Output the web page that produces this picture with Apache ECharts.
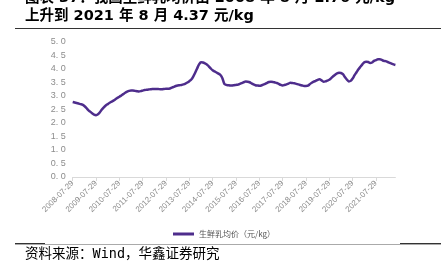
<!DOCTYPE html>
<html><head><meta charset="utf-8">
<script src="https://cdn.jsdelivr.net/npm/echarts@6/dist/echarts.min.js"></script>
<style>html,body{margin:0;padding:0;background:#fff}#c{width:441px;height:272px}</style>
</head><body><div id="c"></div>
<script>
// monthly series from 2008-07 to 2022-05
const startYear = 2008, startMonth = 7, nMonths = 167;
const seriesName = '生鲜乳均价（元/kg）';
const milkPrice = [
2.78,2.76,2.74,2.72,2.70,2.68,2.63,2.56,2.48,2.42,2.36,2.31,
2.29,2.32,2.40,2.50,2.58,2.65,2.70,2.75,2.79,2.83,2.88,2.93,
2.97,3.02,3.07,3.12,3.16,3.19,3.20,3.20,3.19,3.18,3.17,3.18,
3.20,3.22,3.23,3.24,3.25,3.26,3.26,3.26,3.26,3.25,3.25,3.26,
3.27,3.27,3.28,3.31,3.34,3.37,3.39,3.40,3.41,3.43,3.46,3.50,
3.55,3.61,3.72,3.86,4.02,4.17,4.25,4.24,4.21,4.17,4.10,4.02,
3.95,3.91,3.87,3.83,3.78,3.66,3.45,3.41,3.40,3.39,3.39,3.40,
3.41,3.42,3.45,3.48,3.51,3.54,3.53,3.51,3.47,3.43,3.40,3.39,
3.38,3.39,3.42,3.45,3.49,3.52,3.53,3.52,3.50,3.48,3.45,3.41,
3.39,3.41,3.43,3.46,3.49,3.48,3.47,3.45,3.43,3.41,3.39,3.37,
3.37,3.38,3.44,3.49,3.53,3.56,3.60,3.62,3.58,3.53,3.54,3.57,
3.60,3.66,3.73,3.79,3.84,3.86,3.85,3.81,3.70,3.61,3.54,3.56,
3.65,3.77,3.88,3.99,4.08,4.17,4.25,4.27,4.26,4.22,4.24,4.30,
4.33,4.36,4.36,4.34,4.30,4.29,4.26,4.23,4.20,4.17,4.15
];
const categories = [];
for (let i = 0; i < nMonths; i++) {
  const t = (startMonth - 1) + i;
  const y = startYear + Math.floor(t / 12), m = (t % 12) + 1;
  categories.push(y + '-' + String(m).padStart(2, '0') + '-29');
}
const titleLine1 = '图表 37：我国生鲜乳均价由 2008 年 8 月 2.76 元/kg';
const titleLine2 = '上升到 2021 年 8 月 4.37 元/kg';
const sourceText = '资料来源：Wind，华鑫证券研究';

const chart = echarts.init(document.getElementById('c'), null, {renderer: 'canvas'});
chart.setOption({
  animation: false,
  backgroundColor: '#fff',
  grid: {left: 72.7, right: 45.6, top: 42, bottom: 95, containLabel: false},
  xAxis: {
    type: 'category', data: categories, boundaryGap: false,
    axisLine: {lineStyle: {color: '#D9D9D9', width: 1}},
    axisTick: {show: true, interval: 11, length: 4, lineStyle: {color: '#D9D9D9'}},
    axisLabel: {interval: 11, rotate: 45, fontSize: 8, color: '#8C8C8C', fontFamily: 'Liberation Sans', margin: 5},
    splitLine: {show: false}
  },
  yAxis: {
    type: 'value', min: 0, max: 5, interval: 0.5,
    axisLine: {show: false}, axisTick: {show: false},
    splitLine: {show: false},
    axisLabel: {fontSize: 9, color: '#8C8C8C', fontFamily: 'Liberation Sans', margin: 7,
      formatter: v => v.toFixed(1).replace('.', '. ')}
  },
  legend: {
    data: [seriesName], left: 168, top: 225, icon: 'rect', itemWidth: 21, itemHeight: 3, itemGap: 4,
    textStyle: {fontSize: 8, color: '#555', fontFamily: 'Noto Sans CJK SC'}
  },
  series: [{
    name: seriesName, type: 'line', data: milkPrice, showSymbol: false, smooth: 0.3,
    lineStyle: {color: '#4E2D8C', width: 2.5}, itemStyle: {color: '#4E2D8C'}
  }],
  graphic: [
    {type: 'text', left: 25, top: -9, style: {text: titleLine1, fontSize: 14.5, fontWeight: 'bold', fill: '#000', fontFamily: 'DejaVu Sans, Noto Sans CJK SC'}},
    {type: 'text', left: 25, top: 9, style: {text: titleLine2, fontSize: 14.5, fontWeight: 'bold', fill: '#000', fontFamily: 'DejaVu Sans, Noto Sans CJK SC'}},
    {type: 'line', shape: {x1: 15, y1: 28.5, x2: 441, y2: 28.5}, style: {stroke: '#333', lineWidth: 1}},
    {type: 'line', shape: {x1: 15, y1: 244.5, x2: 441, y2: 244.5}, style: {stroke: '#AAAAAA', lineWidth: 1}},
    {type: 'line', shape: {x1: 15, y1: 243.5, x2: 45, y2: 243.5}, style: {stroke: '#333', lineWidth: 1}},
    {type: 'line', shape: {x1: 400, y1: 243.5, x2: 441, y2: 243.5}, style: {stroke: '#333', lineWidth: 1}},
    {type: 'text', left: 25, top: 248, style: {text: sourceText, fontSize: 13.5, fill: '#000', fontFamily: 'DejaVu Sans Mono, Noto Sans CJK SC'}}
  ]
});
</script>
</body></html>
